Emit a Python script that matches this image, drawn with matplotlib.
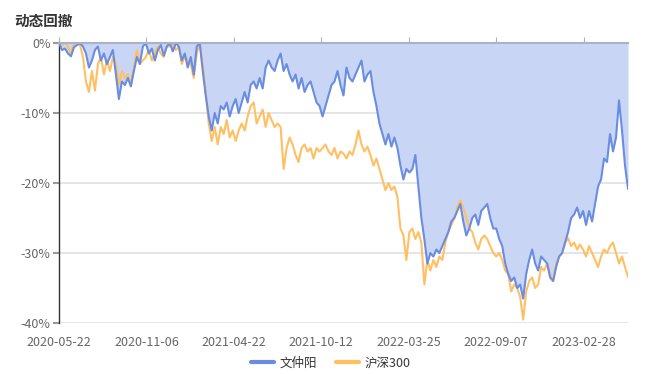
import numpy as np
import matplotlib
matplotlib.use("Agg")
import matplotlib.pyplot as plt
from matplotlib.lines import Line2D

plt.rcParams['font.family'] = ['Noto Sans CJK SC', 'DejaVu Sans']

title = "动态回撤"
series_names = ["文仲阳", "沪深300"]
tick_labels = ["2020-05-22", "2020-11-06", "2021-04-22", "2021-10-12",
               "2022-03-25", "2022-09-07", "2023-02-28"]
y_ticks = [0, -10, -20, -30, -40]

wenzhongyang = [
    0, -1.0, -0.8, -1.5, -1.9, -0.6, -0.3, 0, -0.5, -1.5,
    -3.5, -2.5, -1.0, -0.5, -2.5, -1.5, -3.0, -2.0, -1.0, -4.5,
    -8.0, -5.5, -6.0, -5.0, -6.2, -4.0, -2.0, -3.0, -0.5, 0,
    -1.5, -0.8, -2.5, -1.0, -0.3, -1.8, -0.5, 0, -1.2, 0,
    -0.5, -2.5, -1.5, -3.5, -2.0, -4.5, -0.5, 0, -4.0, -7.5,
    -10.5, -12.5, -10.0, -11.5, -9.0, -9.5, -8.5, -10.5, -9.0, -8.0,
    -10.0, -8.5, -7.0, -8.5, -6.0, -5.5, -6.5, -5.0, -6.5, -3.5,
    -2.5, -3.5, -4.0, -2.5, -1.5, -4.0, -3.0, -4.5, -5.5, -4.5,
    -6.5, -5.0, -7.0, -6.0, -5.5, -7.0, -8.5, -9.0, -10.5, -9.0,
    -7.5, -6.0, -5.5, -4.0, -6.0, -7.5, -3.5, -5.0, -5.5, -4.5,
    -3.5, -2.5, -5.5, -4.5, -4.0, -7.0, -9.0, -11.5, -13.0, -14.5,
    -13.0, -14.8, -13.5, -15.0, -17.5, -19.5, -18.0, -18.5, -18.0, -16.0,
    -20.5, -25.0, -28.0, -31.5, -30.0, -30.5, -29.5, -30.0, -29.0, -28.0,
    -27.0, -25.5, -25.0, -24.0, -23.0, -25.5, -27.5, -26.5, -25.0, -24.5,
    -26.0, -24.0, -23.5, -23.0, -25.0, -26.5, -26.5, -28.0, -29.0, -31.5,
    -33.0, -34.0, -33.5, -35.0, -34.5, -36.5, -33.0, -31.0, -29.5, -31.5,
    -32.5, -30.5, -31.0, -31.5, -33.5, -34.0, -32.0, -30.5, -30.0, -28.5,
    -27.0, -25.0, -24.5, -23.5, -25.0, -24.0, -26.0, -24.0, -25.5, -23.0,
    -20.5, -19.5, -16.5, -17.0, -13.0, -15.5, -13.5, -8.2, -12.5, -17.5,
    -20.8,
]

hs300 = [
    0, -0.3, 0, -0.5, -1.5, 0, 0, -0.3, -2.0, -5.5,
    -7.0, -4.0, -6.8, -3.0, -2.0, -4.5, -2.5, -4.0, -2.0, -3.0,
    -6.0, -4.0, -5.0, -4.5, -6.0, -3.5, -1.0, -3.0, -2.5, -2.0,
    -1.0, -2.5, -1.5, -0.5, -1.5, -2.0, -0.5, -0.5, 0, -1.0,
    -0.5, -3.0, -2.0, -2.5, -3.0, -5.0, -1.5, 0, -3.0, -7.0,
    -11.5, -14.0, -12.0, -14.5, -12.0, -13.0, -11.0, -13.5, -12.5, -14.0,
    -12.5, -11.5, -12.5, -10.5, -9.0, -8.5, -11.5, -10.5, -9.5, -12.0,
    -10.0, -11.0, -12.0, -11.5, -12.0, -18.0, -15.0, -13.5, -14.5, -16.0,
    -17.0, -15.0, -14.5, -15.5, -15.0, -16.5, -15.0, -15.5, -15.0, -14.5,
    -15.5, -16.0, -15.0, -16.5, -15.5, -15.8, -16.5, -15.5, -16.0, -14.5,
    -12.5, -14.5, -15.5, -14.8, -16.0, -17.5, -16.5, -18.0, -19.5, -21.0,
    -20.0, -21.0, -20.5, -22.0, -26.5, -27.5, -31.0, -27.0, -26.5, -28.0,
    -27.0, -28.5, -34.5, -31.0, -32.5, -31.0, -32.0, -30.5, -31.0, -28.5,
    -27.0, -26.0, -25.0, -23.5, -22.5, -23.5, -25.0, -26.5, -27.0, -28.5,
    -29.5, -28.0, -27.5, -28.0, -29.0, -30.0, -30.5, -30.0, -31.0, -32.5,
    -33.0, -35.5, -34.5, -35.0, -36.3, -39.5, -35.5, -34.0, -33.5, -35.0,
    -34.5, -32.0, -32.5, -31.5, -33.0, -34.0, -31.5, -30.5, -30.0, -28.5,
    -27.9, -29.0, -28.5, -29.5, -28.8, -29.5, -30.5, -29.0, -30.0, -31.0,
    -32.0, -30.5, -29.5, -30.0, -29.0, -28.5, -30.0, -31.5, -30.5, -32.0,
    -33.4,
]

BLUE = '#6a8de2'
ORANGE = '#ffbf62'
FILL = '#c9d5f5'
W, H = 650, 374
TICK_STEP = 29.2

fig = plt.figure(figsize=(W / 100, H / 100), dpi=100)
ax = fig.add_axes([59 / W, 51 / H, (628 - 59) / W, (323 - 43) / H])

x = np.arange(len(wenzhongyang))
ax.fill_between(x, wenzhongyang, 0, color=FILL, lw=0, zorder=1)
ax.plot(x, hs300, color=ORANGE, lw=1.5, zorder=3, solid_joinstyle='round')
ax.plot(x, wenzhongyang, color=BLUE, lw=1.5, zorder=4, solid_joinstyle='round')

ax.set_xlim(0, len(x) - 1)
ax.set_ylim(-40, 0)
ax.set_yticks(y_ticks)
ax.set_yticklabels([f"{v}%" for v in y_ticks])
for v in y_ticks[1:]:
    ax.axhline(v, color='#e0e0e0', lw=1.2, zorder=0.5)

ax.set_xticks(np.arange(len(tick_labels)) * TICK_STEP)
ax.set_xticklabels(tick_labels)
ax.tick_params(axis='x', top=True, bottom=False, labeltop=False, labelbottom=True,
               direction='out', length=4, width=0.8, color='#aab2c8',
               labelsize=9, labelcolor='#666666', pad=5)
ax.tick_params(axis='y', direction='out', length=4, width=1.5, color='#999999',
               labelsize=9, labelcolor='#666666', pad=2)

for s in ['right', 'bottom']:
    ax.spines[s].set_visible(False)
ax.spines['left'].set_color('#333333')
ax.spines['left'].set_linewidth(1.0)
ax.spines['top'].set_color('#aab2c8')
ax.spines['top'].set_linewidth(1.5)
ax.spines['top'].set_zorder(5)

fig.text(14 / W, 1 - 21 / H, title, fontsize=10.5, fontweight='bold',
         color='#333333', va='center', ha='left')

handles = [Line2D([0], [0], color=BLUE, lw=3, solid_capstyle='round'),
           Line2D([0], [0], color=ORANGE, lw=3, solid_capstyle='round')]
fig.legend(handles, series_names, loc='center', bbox_to_anchor=(331 / W, 1 - 363 / H),
           ncol=2, frameon=False, fontsize=9, handlelength=1.8, handletextpad=0.5,
           columnspacing=1.5, labelcolor='#333333')

fig.savefig('out.png', dpi=100)
